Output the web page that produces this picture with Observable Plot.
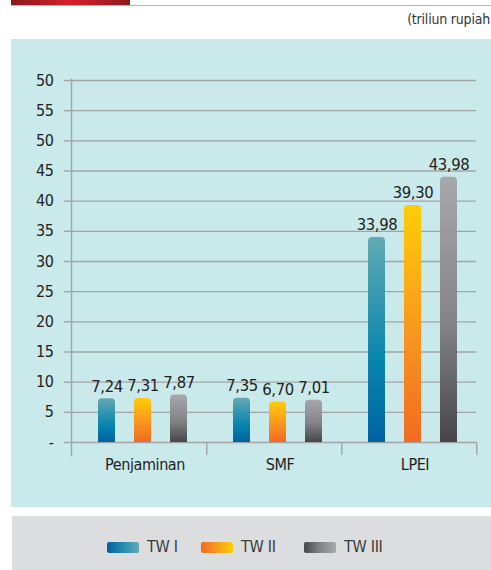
<!DOCTYPE html>
<html><head><meta charset="utf-8">
<script src="https://cdn.jsdelivr.net/npm/d3@7"></script>
<script src="https://cdn.jsdelivr.net/npm/@observablehq/plot@0.6"></script>
<style>
html,body{margin:0;padding:0;width:491px;height:570px;overflow:hidden;background:#fff;}
body{position:relative;font-family:"Liberation Sans Narrow","DejaVu Sans Condensed","Open Sans",sans-serif;font-stretch:condensed;}
#redbar{position:absolute;left:11px;top:0;width:119px;height:5px;background:linear-gradient(90deg,#8a1a1f,#d71f2a 50%,#8a1a1f);}
#rule{position:absolute;left:11px;top:5px;width:480px;height:1px;background:#b4b4b4;}
#unit{position:absolute;right:1px;top:11px;font-size:14px;color:#333;white-space:nowrap;letter-spacing:-0.2px;}
#panel{position:absolute;left:11px;top:39px;width:480px;height:468px;background:#cae9eb;}
#panel svg{display:block;overflow:visible;}
#panel svg text{letter-spacing:-0.4px;}
#legend{position:absolute;left:12px;top:516px;width:479px;height:54px;background:#dcdddf;}
.sw{position:absolute;top:26px;width:32px;height:11px;border-radius:2px;}
.lt{position:absolute;top:22px;font-size:16px;color:#3b3b3b;line-height:18px;letter-spacing:-0.3px;}
</style></head>
<body>
<div id="redbar"></div>
<div id="rule"></div>
<div id="unit">(triliun rupiah</div>
<div id="panel"></div>
<div id="legend"></div>
<script>
// ---- data ----
const groups = ["Penjaminan", "SMF", "LPEI"];
const series = ["TW I", "TW II", "TW III"];
const valuesTW1 = [7.24, 7.35, 33.98];
const valuesTW2 = [7.31, 6.70, 39.30];
const valuesTW3 = [7.87, 7.01, 43.98];
const yTicks = [0, 5, 10, 15, 20, 25, 30, 35, 40, 45, 50, 55, 60];
const yTickLabels = ["-", "5", "10", "15", "20", "25", "30", "35", "40", "45", "50", "55", "50"];

const seriesValues = [valuesTW1, valuesTW2, valuesTW3];
const table = [];
groups.forEach((g, gi) => series.forEach((s, si) => table.push({group: g, series: s, value: seriesValues[si][gi]})));

const gradIds = ["gTW1", "gTW2", "gTW3"];
const barStops = [
  [["0%", "#63a9b2"], ["60%", "#0886ad"], ["100%", "#0062a0"]],
  [["0%", "#ffcd05"], ["55%", "#f7961f"], ["100%", "#f26a22"]],
  [["0%", "#a7a8ab"], ["55%", "#838487"], ["100%", "#464648"]]
];
const legendGrad = [
  "linear-gradient(90deg,#0062a0,#2a8fb0 55%,#63a9b2)",
  "linear-gradient(90deg,#f26a22,#f7961f 45%,#ffcd05)",
  "linear-gradient(90deg,#464648,#838487 50%,#a7a8ab)"
];

const fmt = v => v.toFixed(2).replace(".", ",");
const font = '"Liberation Sans Narrow","DejaVu Sans Condensed","Open Sans",sans-serif';
const gridColor = "#a1a4a7";

const chart = Plot.plot({
  width: 480,
  height: 468,
  marginLeft: 59,
  marginRight: 14,
  marginTop: 41,
  marginBottom: 65,
  style: {background: "transparent", fontFamily: font, fontSize: "16px", color: "#231f20", overflow: "visible"},
  fx: {domain: groups, padding: 0, label: null, axis: null},
  x: {domain: series, paddingInner: 0.527, paddingOuter: 0.597, align: 0.58, axis: null},
  y: {domain: [0, 60], axis: null},
  color: {domain: series, range: gradIds.map(id => `url(#${id})`)},
  marks: [
    Plot.gridY(yTicks, {stroke: gridColor, strokeOpacity: 1, strokeWidth: 1.4}),
    Plot.axisY(yTicks, {
      tickSize: 7, tickPadding: 11, stroke: gridColor, strokeWidth: 1.4,
      tickFormat: d => yTickLabels[yTicks.indexOf(d)], fontSize: 16, fill: "#231f20", label: null
    }),
    Plot.frame({anchor: "left", facetAnchor: "left", stroke: gridColor, strokeWidth: 1.4, insetTop: -1, insetBottom: -13}),
    Plot.axisFx({anchor: "bottom", tickSize: 0, tickPadding: 16, label: null, dx: 6, fontSize: 16, fill: "#231f20"}),
    Plot.axisFx({anchor: "bottom", tickSize: 13, tickFormat: () => "", label: null, dx: 67.8, stroke: gridColor, strokeWidth: 1.4}),
    Plot.barY(table, {fx: "group", x: "series", y: "value", fill: "series", ry1: 4}),
    Plot.text(table, {fx: "group", x: "series", y: "value", text: d => fmt(d.value), dy: -7, lineAnchor: "bottom", fontSize: 16.5, fill: "#231f20"})
  ]
});

// gradient definitions
const ns = "http://www.w3.org/2000/svg";
const defs = document.createElementNS(ns, "defs");
gradIds.forEach((id, i) => {
  const lg = document.createElementNS(ns, "linearGradient");
  lg.setAttribute("id", id);
  lg.setAttribute("x1", "0"); lg.setAttribute("y1", "0");
  lg.setAttribute("x2", "0"); lg.setAttribute("y2", "1");
  barStops[i].forEach(([o, c]) => {
    const st = document.createElementNS(ns, "stop");
    st.setAttribute("offset", o);
    st.setAttribute("stop-color", c);
    lg.appendChild(st);
  });
  defs.appendChild(lg);
});
chart.insertBefore(defs, chart.firstChild);
document.getElementById("panel").appendChild(chart);

// legend
const legend = document.getElementById("legend");
const swX = [95, 189, 292];
series.forEach((s, i) => {
  const sw = document.createElement("div");
  sw.className = "sw";
  sw.style.left = swX[i] + "px";
  sw.style.background = legendGrad[i];
  legend.appendChild(sw);
  const t = document.createElement("div");
  t.className = "lt";
  t.style.left = (swX[i] + 40) + "px";
  t.textContent = s;
  legend.appendChild(t);
});
</script>
</body></html>
